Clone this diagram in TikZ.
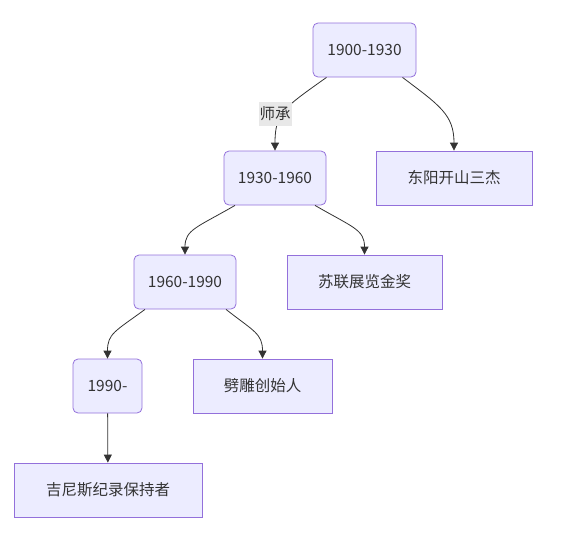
\documentclass[tikz,border=0pt]{standalone}
\usepackage{fontspec}
\setmainfont{Noto Sans CJK SC}
\usetikzlibrary{arrows.meta}
\definecolor{boxfill}{HTML}{ECECFF}
\definecolor{boxline}{HTML}{9370DB}
\definecolor{edgeline}{HTML}{333333}
\definecolor{lblfill}{HTML}{E8E8E8}
\tikzset{
  era/.style={draw=boxline, fill=boxfill, rounded corners=5pt, line width=0.8pt, minimum height=54pt, inner sep=0pt},
  award/.style={draw=boxline, fill=boxfill, line width=0.8pt, minimum height=54pt, inner sep=0pt},
  edge/.style={draw=edgeline, line width=0.8pt, -{Triangle[length=8pt,width=8pt]}},
  lbl/.style={fill=lblfill, inner sep=1pt, minimum height=24pt}
}
\begin{document}
\begin{tikzpicture}[x=1pt, y=-1pt, font=\fontsize{15.5}{18}\selectfont, text=edgeline]
\useasboundingbox (0,0) rectangle (565,533);
\node[era, minimum width=103pt] (e1900) at (364.5, 50) {1900-1930};
\node[award, minimum width=156pt] (dongyang) at (454, 178) {东阳开山三杰};
\node[era, minimum width=102pt] (e1930) at (275, 178) {1930-1960};
\node[award, minimum width=155pt] (sulian) at (364.5, 282) {苏联展览金奖};
\node[era, minimum width=102pt] (e1960) at (185, 282) {1960-1990};
\node[award, minimum width=139pt] (pidiao) at (262.5, 386) {劈雕创始人};
\node[era, minimum width=69pt] (e1990) at (107.5, 386) {1990-};
\node[award, minimum width=188pt] (guinness) at (108, 490) {吉尼斯纪录保持者};
\draw[edge] ([xshift=-38pt]e1900.south) .. controls +(-42,30) and +(0,-38) .. (e1930.north);
\draw[edge] ([xshift=38pt]e1900.south) .. controls +(37,28) and +(0,-36) .. (dongyang.north);
\draw[edge] ([xshift=-40pt]e1930.south) .. controls +(-38,22) and +(0,-25) .. (e1960.north);
\draw[edge] ([xshift=40pt]e1930.south) .. controls +(38,22) and +(0,-25) .. (sulian.north);
\draw[edge] ([xshift=-40pt]e1960.south) .. controls +(-30,22) and +(0,-25) .. (e1990.north);
\draw[edge] ([xshift=41pt]e1960.south) .. controls +(28,22) and +(0,-25) .. (pidiao.north);
\draw[edge] (e1990) -- (guinness);
\node[lbl] (shicheng) at (275, 114) {师承};
\end{tikzpicture}
\end{document}
